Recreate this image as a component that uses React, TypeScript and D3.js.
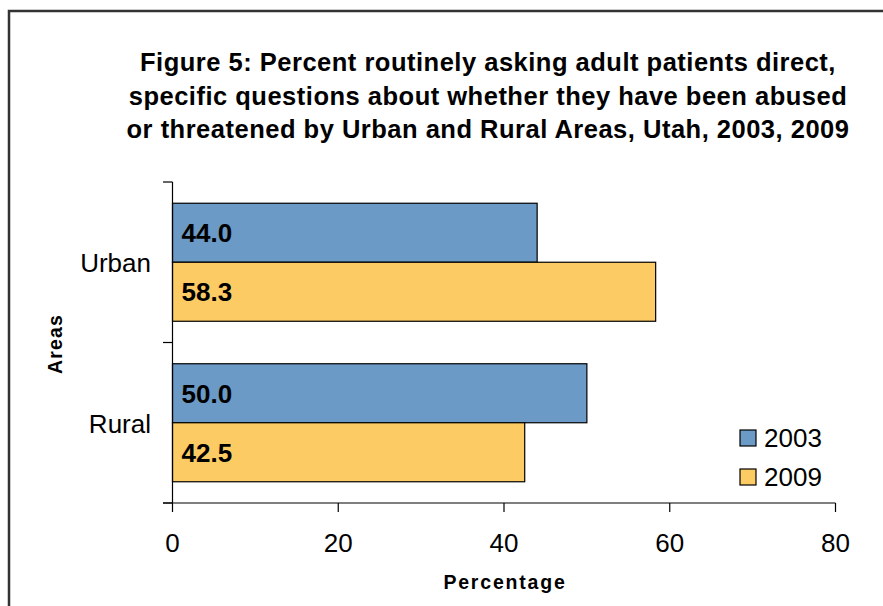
import { useEffect, useRef } from 'react';
import * as d3 from 'd3';

const areas = ['Urban', 'Rural'];
const years = ['2003', '2009'];
const values2003 = [44.0, 50.0];
const values2009 = [58.3, 42.5];
const xTicks = [0, 20, 40, 60, 80];
const titleLines = [
  'Figure 5: Percent routinely asking adult patients direct,',
  'specific questions about whether they have been abused',
  'or threatened by Urban and Rural Areas, Utah, 2003, 2009',
];

const COLORS: Record<string, string> = { '2003': '#6A9AC5', '2009': '#FDCB63' };
const FONT = 'Liberation Sans, Arial, sans-serif';

export default function App() {
  const ref = useRef<SVGSVGElement>(null);

  useEffect(() => {
    if (!ref.current) return;
    const svg = d3.select(ref.current);
    svg.selectAll('*').remove();

    const width = 883;
    const height = 606;
    svg.attr('width', width).attr('height', height).style('display', 'block');

    // frame
    svg.append('rect').attr('x', 9).attr('y', 11).attr('width', 900).attr('height', 700)
      .attr('fill', 'white').attr('stroke', '#333').attr('stroke-width', 2.5);

    // title
    svg.append('text').attr('text-anchor', 'middle').attr('font-family', FONT)
      .attr('font-weight', 'bold').attr('font-size', '25.5px').attr('letter-spacing', '0.5px')
      .attr('fill', '#000')
      .selectAll('tspan').data(titleLines).enter().append('tspan')
      .attr('x', 488).attr('y', (_, i) => 71 + i * 33.5).text(d => d);

    const x = d3.scaleLinear().domain([0, 80]).range([172.5, 835.5]);
    const y = d3.scaleBand().domain(areas).range([182, 503]).paddingInner(0).paddingOuter(0);
    const inner = d3.scaleBand().domain(years).range([0, y.bandwidth()]).paddingInner(0).paddingOuter(0.36);

    const g = svg.append('g');

    const rows = areas.map((a, i) => ({ area: a, vals: [values2003[i], values2009[i]] }));
    rows.forEach(r => {
      years.forEach((yr, j) => {
        const v = r.vals[j];
        const y0 = (y(r.area) as number) + (inner(yr) as number);
        g.append('rect').attr('x', x(0)).attr('y', y0).attr('width', x(v) - x(0))
          .attr('height', inner.bandwidth()).attr('fill', COLORS[yr])
          .attr('stroke', '#000').attr('stroke-width', 1.2);
        g.append('text').attr('x', x(0) + 9).attr('y', y0 + inner.bandwidth() / 2 + 9.5)
          .attr('font-family', FONT).attr('font-weight', 'bold')
          .attr('font-size', '26px').attr('fill', '#000').text(v.toFixed(1));
      });
    });

    // y axis
    g.append('line').attr('x1', x(0)).attr('x2', x(0)).attr('y1', 182).attr('y2', 503)
      .attr('stroke', '#000').attr('stroke-width', 1.2);
    [182, 342.5, 503].forEach(t => {
      g.append('line').attr('x1', 163).attr('x2', x(0)).attr('y1', t).attr('y2', t)
        .attr('stroke', '#000').attr('stroke-width', 1.2);
    });
    areas.forEach(a => {
      g.append('text').attr('x', 151).attr('y', (y(a) as number) + y.bandwidth() / 2 + 10)
        .attr('text-anchor', 'end').attr('font-family', FONT)
        .attr('font-size', '26px').attr('fill', '#000').text(a);
    });

    // x axis
    g.append('line').attr('x1', 163).attr('x2', x(80)).attr('y1', 503).attr('y2', 503)
      .attr('stroke', '#000').attr('stroke-width', 1.2);
    xTicks.forEach(t => {
      g.append('line').attr('x1', x(t)).attr('x2', x(t)).attr('y1', 503).attr('y2', 512)
        .attr('stroke', '#000').attr('stroke-width', 1.2);
      g.append('text').attr('x', x(t)).attr('y', 552).attr('text-anchor', 'middle')
        .attr('font-family', FONT).attr('font-size', '26px').attr('fill', '#000').text(String(t));
    });

    // axis titles
    svg.append('text').attr('x', 505).attr('y', 589).attr('text-anchor', 'middle')
      .attr('font-family', FONT).attr('font-weight', 'bold').attr('font-size', '19.5px')
      .attr('letter-spacing', '1.8px').attr('fill', '#000').text('Percentage');
    svg.append('text').attr('transform', 'translate(62,344) rotate(-90)').attr('text-anchor', 'middle')
      .attr('font-family', FONT).attr('font-weight', 'bold').attr('font-size', '19.5px')
      .attr('letter-spacing', '1.2px').attr('fill', '#000').text('Areas');

    // legend
    years.forEach((yr, i) => {
      const ly = 430 + i * 39;
      svg.append('rect').attr('x', 740).attr('y', ly).attr('width', 16).attr('height', 16)
        .attr('fill', COLORS[yr]).attr('stroke', '#000').attr('stroke-width', 1.2);
      svg.append('text').attr('x', 764).attr('y', ly + 17)
        .attr('font-family', FONT).attr('font-size', '26px').attr('fill', '#000').text(yr);
    });
  }, []);

  return <svg ref={ref} style={{ position: 'absolute', left: 0, top: 0 }} />;
}
